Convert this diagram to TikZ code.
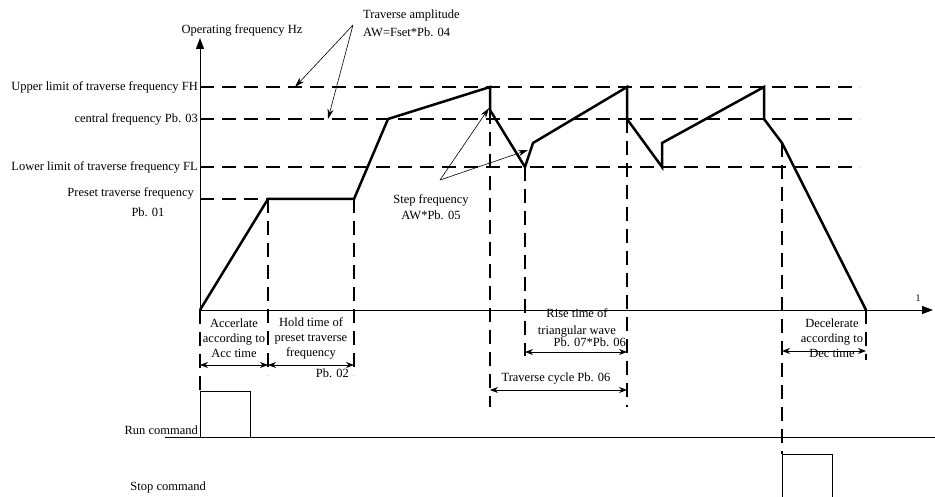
\documentclass[tikz,border=0pt]{standalone}
\usepackage{fontspec}
\setmainfont{Liberation Serif}
\usetikzlibrary{arrows.meta, positioning, calc}

\tikzset{
  wave/.style={line width=2.5pt, line join=miter},
  guide/.style={line width=1.8pt, dash pattern=on 14pt off 8pt},
  axis/.style={line width=0.9pt, -{Triangle[length=11pt, width=8pt]}},
  dim/.style={line width=0.9pt, {Stealth[length=8pt, width=6pt]}-{Stealth[length=8pt, width=6pt]}},
  pointer/.style={line width=0.6pt, -{Stealth[length=10pt, width=6pt]}},
  txt/.style={inner sep=0pt, align=center},
  signal/.style={line width=0.8pt}
}

\begin{document}
\begin{tikzpicture}[x=1pt, y=-1pt, font=\fontsize{12.5}{15}\selectfont]
  \useasboundingbox (0,0) rectangle (935,497);

  % axes
  \coordinate (O) at (200,310);
  \coordinate (ytip) at (200,38);
  \coordinate (xtip) at (933,310);
  \draw[axis] (O) -- (ytip);
  \draw[axis] (O) -- (xtip);
  \node[txt] (ylbl) at (242,30) {Operating frequency Hz};
  \node[txt, font=\fontsize{10}{12}\selectfont] (xlbl) at (918,298) {1};

  % frequency levels
  \foreach \y/\n in {87/fh, 119/fc, 167/fl}{
    \coordinate (\n a) at (200,\y);
    \coordinate (\n b) at (860,\y);
    \draw[guide] (\n a) -- (\n b);
  }
  \node[txt, anchor=east] (fhlbl) at (198,87) {Upper limit of traverse frequency FH};
  \node[txt, anchor=east] (fclbl) at (198,119) {central frequency Pb. 03};
  \node[txt, anchor=east] (fllbl) at (198,167) {Lower limit of traverse frequency FL};
  \node[txt, anchor=east] (prlbl) at (194,193) {Preset traverse frequency};
  \node[txt] (prlbl2) at (148,212) {Pb. 01};

  % output frequency curve
  \coordinate (pra) at (200,199);
  \coordinate (p1) at (268,199);
  \coordinate (p2) at (354,199);
  \coordinate (c0) at (388,119);
  \coordinate (h1) at (490,87);
  \coordinate (s1) at (490,110);
  \coordinate (l1) at (525,167);
  \coordinate (s2) at (533,143);
  \coordinate (h2) at (627,87);
  \coordinate (c2) at (627,119);
  \coordinate (l2) at (662,167);
  \coordinate (s3) at (662,143);
  \coordinate (h3) at (764,87);
  \coordinate (c3) at (764,119);
  \coordinate (d1) at (782,143);
  \coordinate (fin) at (866,310);
  \draw[guide] (pra) -- (p1);
  \draw[wave] (O) -- (p1) -- (p2) -- (c0) -- (h1) -- (s1) -- (l1) -- (s2)
    -- (h2) -- (c2) -- (l2) -- (s3) -- (h3) -- (c3) -- (d1) -- (fin);

  % time marks
  \draw[guide] (p1) -- ++(0,176);
  \draw[guide] (p2) -- ++(0,176);
  \draw[guide] (O) -- (200,391) coordinate (runa);
  \draw[guide] (s1) -- (490,407);
  \draw[guide] (l1) -- (525,356);
  \draw[guide] (c2) -- (627,407);
  \draw[guide] (d1) -- (782,454) coordinate (stopa);
  \draw[guide] (fin) -- (866,360);

  % spans
  \draw[dim] (200,365) coordinate (acca) -- (268,365) coordinate (accb);
  \draw[dim] (accb) -- (354,365) coordinate (holdb);
  \draw[dim] (525,352) coordinate (risea) -- (627,352) coordinate (riseb);
  \draw[dim] (490,390) coordinate (cyca) -- (627,390) coordinate (cycb);
  \draw[dim] (782,351) coordinate (deca) -- (866,351) coordinate (decb);

  \node[txt] (acclbl) at (234,338) {Accerlate\\according to\\Acc time};
  \node[txt] (holdlbl) at (311,338) {Hold time of\\preset traverse\\frequency};
  \node[txt, anchor=east] (holdlbl2) at (349,373) {Pb. 02};
  \node[txt, font=\fontsize{12.5}{17}\selectfont] (riselbl) at (577,323) {Rise time of\\triangular wave};
  \node[txt, anchor=east] (riselbl2) at (626,342) {Pb. 07*Pb. 06};
  \node[txt] (cyclbl) at (556,379) {Traverse cycle Pb. 06};
  \node[txt] (declbl) at (832,338) {Decelerate\\according to\\Dec time};

  % pointers
  \node[txt, align=left, anchor=west, font=\fontsize{12.5}{18}\selectfont] (amplbl) at (363,23) {Traverse amplitude\\AW=Fset*Pb. 04};
  \coordinate (ampfoot) at (353,25);
  \draw[pointer] (ampfoot) -- (295,87) coordinate (fhpt);
  \draw[pointer] (ampfoot) -- (328,119) coordinate (fcpt);
  \node[txt, font=\fontsize{12.5}{16}\selectfont] (steplbl) at (431,207) {Step frequency\\AW*Pb. 05};
  \coordinate (stepfoot) at (440,180);
  \draw[pointer] (stepfoot) -- (489,108) coordinate (st1);
  \draw[pointer] (stepfoot) -- (528,150) coordinate (st2);

  % commands
  \coordinate (runl) at (165,437);
  \coordinate (runr) at (935,437);
  \draw[signal] (runl) -- (runr);
  \draw[signal] (200,437) -- (runa) -- (250,391) -- (250,437);
  \node[txt, anchor=east] (runlbl) at (198,430) {Run command};
  \draw[signal] (782,497) -- (stopa) -- (832,454) -- (832,497);
  \node[txt, anchor=east] (stoplbl) at (206,487) {Stop command};
\end{tikzpicture}
\end{document}
